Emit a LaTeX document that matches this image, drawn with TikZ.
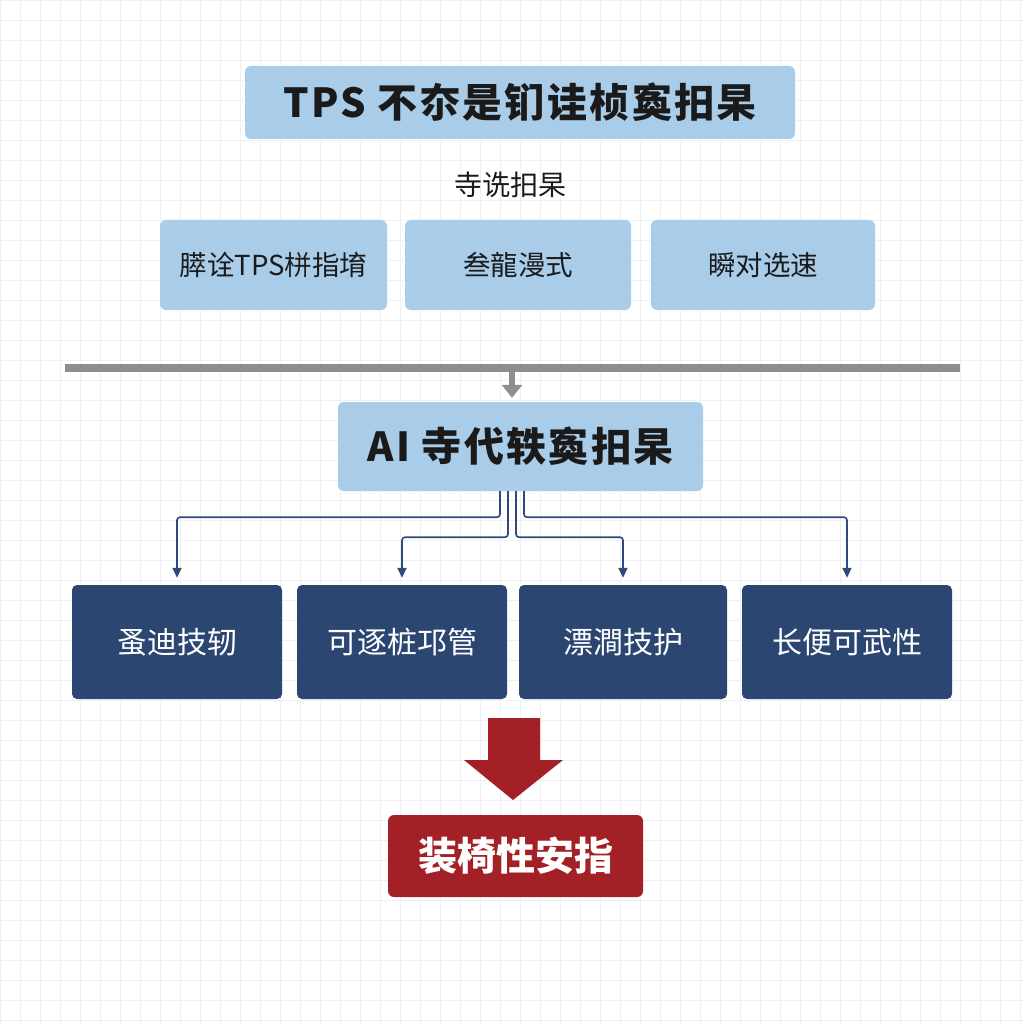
\documentclass[tikz,border=0pt]{standalone}
\usepackage{fontspec}
\setmainfont{Noto Sans CJK SC}
\newfontfamily\cjk{Noto Sans CJK SC}
\newfontfamily\cjkwide[LetterSpace=6]{Noto Sans CJK SC}
\usetikzlibrary{arrows.meta}
\definecolor{lightbox}{HTML}{A9CCE9}
\definecolor{darkbox}{HTML}{2C4672}
\definecolor{redbox}{HTML}{A32126}
\definecolor{conncol}{HTML}{2E4A7A}
\definecolor{barcol}{HTML}{8E8E8E}
\definecolor{gridcol}{HTML}{EEF1F4}
\definecolor{txt}{HTML}{1A1A1A}
\tikzset{
  lbox/.style={fill=lightbox, rounded corners=6pt, inner sep=0pt, text=txt, font=\cjk\fontsize{27.5}{31}\selectfont},
  hbox/.style={fill=lightbox, rounded corners=6pt, inner sep=0pt, text=txt, font=\cjkwide\bfseries\fontsize{40}{46}\selectfont},
  dbox/.style={fill=darkbox, rounded corners=5pt, inner sep=0pt, text=white, minimum height=114pt, font=\cjk\fontsize{30}{34}\selectfont},
  conn/.style={draw=conncol, line width=1.6pt, rounded corners=3pt, shorten >=7pt, -{Triangle[length=10pt,width=9pt]}},
}
\begin{document}
\begin{tikzpicture}[x=1pt,y=-1pt]
\useasboundingbox (0,0) rectangle (1024,1024);
\fill[white] (0,0) rectangle (1024,1024);
\draw[gridcol, line width=0.6pt, step=20pt] (0,0) grid (1024,1024);

\node[hbox, minimum width=550pt, minimum height=73pt] (title) at (520,102.5) {TPS 不夵是钔诖桢寏抇杲};
\node[text=txt, font=\cjk\fontsize{28}{32}\selectfont, inner sep=0pt] (lab) at (510,185) {寺诜抇杲};

\node[lbox, minimum width=227pt, minimum height=90pt] (b1) at (273.5,265) {膵诠TPS栟指堉};
\node[lbox, minimum width=226pt, minimum height=90pt] (b2) at (518,265) {叁龍漫式};
\node[lbox, minimum width=224pt, minimum height=90pt] (b3) at (763,265) {瞬对选速};

\node[fill=barcol, minimum width=895pt, minimum height=8pt, inner sep=0pt] (bar) at (512.5,368) {};

\node[hbox, minimum width=365pt, minimum height=89pt] (ai) at (520.5,446.5) {AI 寺代轶寏抇杲};

\draw[barcol, line width=6pt, shorten >=4pt, -{Triangle[length=13pt,width=20pt]}] ([xshift=-0.5pt]bar.south) -- ([xshift=-8.5pt]ai.north);

\node[dbox, minimum width=210pt] (d1) at (177,642) {蚤迪技轫};
\node[dbox, minimum width=210pt] (d2) at (402,642) {可逐桩邛管};
\node[dbox, minimum width=208pt] (d3) at (623,642) {漂澗技护};
\node[dbox, minimum width=210pt] (d4) at (847,642) {长便可武性};

\draw[conn] ([xshift=-20.5pt]ai.south) -- ++(0,26) -| (d1.north);
\draw[conn] ([xshift=-12.5pt]ai.south) -- ++(0,46) -| (d2.north);
\draw[conn] ([xshift=-4.5pt]ai.south) -- ++(0,46) -| (d3.north);
\draw[conn] ([xshift=3.5pt]ai.south) -- ++(0,26) -| (d4.north);

\node[fill=redbox, rounded corners=6pt, inner sep=0pt, minimum width=255pt, minimum height=82pt, text=white, font=\cjk\bfseries\fontsize{39}{45}\selectfont] (res) at (515.5,856) {装椅性安指};

\fill[redbox] (488,718) -- (540,718) -- (540,760) -- (563,760) -- (513,800) -- (464,760) -- (488,760) -- cycle;
\end{tikzpicture}
\end{document}
